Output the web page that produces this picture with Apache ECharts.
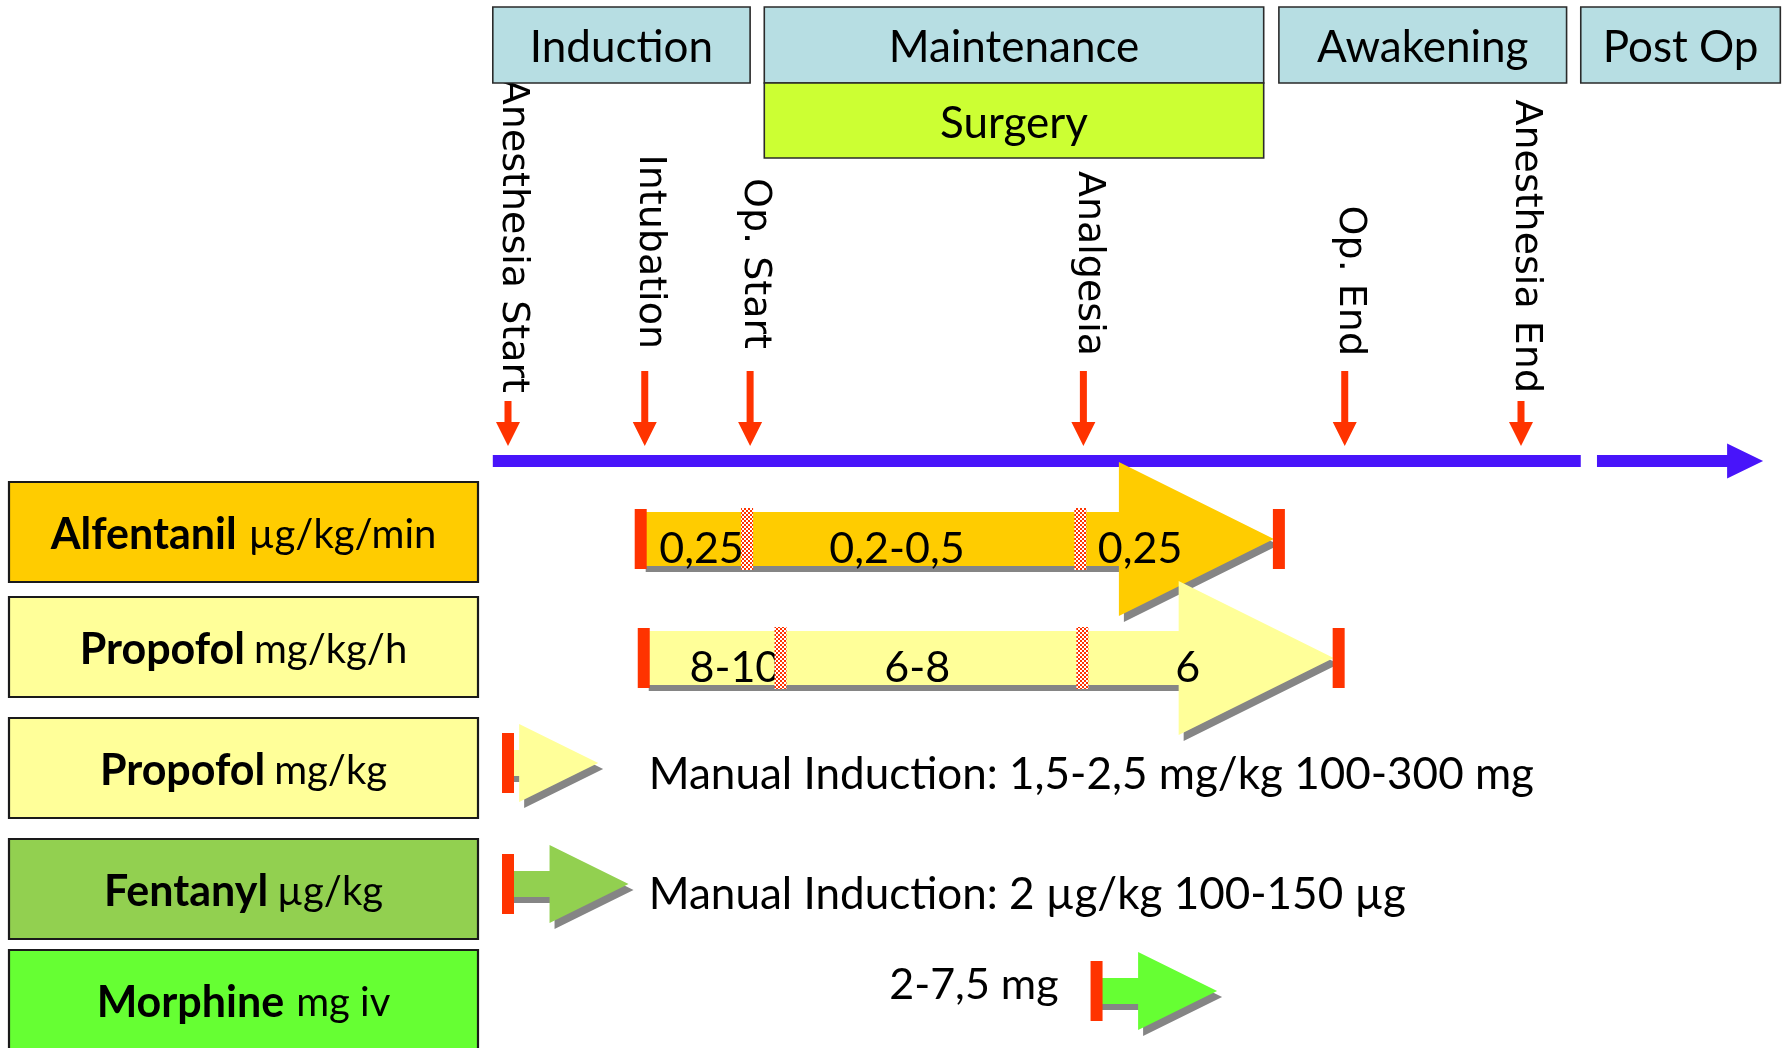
<!DOCTYPE html>
<html><head><meta charset="utf-8">
<script src="https://cdn.jsdelivr.net/npm/echarts@6/dist/echarts.min.js"></script>
<style>html,body{margin:0;padding:0;background:#fff}#c{width:1787px;height:1048px}</style>
</head><body><div id="c"></div>
<script>
// ================= DATA (timeline units: Anesthesia Start = 0, Anesthesia End = 100) =================
const phaseNames  = ['Induction', 'Maintenance', 'Awakening', 'Post Op'];
const phaseStart  = [-1.5, 25.3, 76.1, 105.9];
const phaseEnd    = [23.9, 74.6, 104.5, 125.6];
const surgeryName = ['Surgery'];
const surgeryStart = [25.3];
const surgeryEnd   = [74.6];

const eventNames = ['Anesthesia Start', 'Intubation', 'Op. Start', 'Analgesia', 'Op. End', 'Anesthesia End'];
const eventTimes = [0, 13.5, 23.9, 56.8, 82.6, 100];

const timelineFrom = [-1.5, 107.5];
const timelineTo   = [105.9, 123.9];

const drugNames = ['Alfentanil', 'Propofol', 'Propofol', 'Fentanyl', 'Morphine'];
const drugUnits = ['µg/kg/min', 'mg/kg/h', 'mg/kg', 'µg/kg', 'mg iv'];

// continuous infusions: segment bounds, doses, label positions
const alfentanilBounds  = [13.1, 23.6, 56.5, 76.1];
const alfentanilDoses   = ['0,25', '0,2-0,5', '0,25'];
const alfentanilLabelAt = [19.1, 38.4, 62.4];
const propofolBounds    = [13.4, 26.9, 56.7, 82.0];
const propofolDoses     = ['8-10', '6-8', '6'];
const propofolLabelAt   = [22.4, 40.4, 67.1];

// boluses
const bolusRow   = [2, 3, 4];
const bolusStart = [0, 0, 58.1];
const bolusEnd   = [8.9, 11.9, 70.0];
const bolusNotes = ['Manual Induction: 1,5-2,5 mg/kg 100-300 mg', 'Manual Induction: 2 µg/kg 100-150 µg', '2-7,5 mg'];

// ================= LAYOUT / STYLE =================
const RED = '#FF3300', BLUE = '#4814FA', SHADOW = '#858585', INK = '#000';
const PHASE_FILL = '#B7DEE3', SURGERY_FILL = '#CCFF33';
const ROW_FILL = ['#FFCC00', '#FFFF99', '#FFFF99', '#92D050', '#66FF33'];
const LATO = 'Lato, "Noto Sans", sans-serif';
const DEJAVU = '"DejaVu Sans", sans-serif';
const L = {
  phaseTop: 7, phaseBottom: 83, surgeryBottom: 158, headerFont: 44,
  eventTextEnd: [393, 349, 349, 356, 356, 393], eventFont: 38,
  eventArrowTop: [401, 371, 371, 371, 371, 401],
  eventTipY: 446, eventHead: 24, eventHeadW: 24, eventShaftW: 7, eventTextDx: 5,
  timelineY: 461, timelineW: 12, timelineHeadLen: 36, timelineHeadHalf: 17.5,
  boxX0: 9, boxX1: 478, boxTop: [482, 597, 718, 839, 950], boxH: 100,
  nameGap: [12, 9, 9, 9, 12],
  rowY: [539, 658, 763, 884, 991],
  bigBodyHalf: 27, bigHeadHalf: 77, bigHeadLen: 155, tipInset: 5,
  smallBodyHalf: 13, smallHeadHalf: 39, smallHeadLen: 79,
  barW: 12, barHalf: 30, sepW: 12, sepHalf: 31, shadowDx: 5, shadowDy: 6,
  doseFont: 43, doseTextDy: 10, noteFont: 44, noteX: 13.9, noteY: [775, 895, 985], noteGap: 38
};

function makePattern() {
  const c = document.createElement('canvas');
  c.width = 4; c.height = 4;
  const g = c.getContext('2d');
  g.fillStyle = '#ffffff'; g.fillRect(0, 0, 4, 4);
  g.fillStyle = RED; g.fillRect(0, 0, 2, 2); g.fillRect(2, 2, 2, 2);
  return c;
}
const HATCH = { image: makePattern(), repeat: 'repeat' };

function arrowPts(x0, xh, xt, c, bh, hh) {
  return [[x0, c - bh], [xh, c - bh], [xh, c - hh], [xt, c], [xh, c + hh], [xh, c + bh], [x0, c + bh]];
}
function shift(pts, dx, dy) { return pts.map(p => [p[0] + dx, p[1] + dy]); }
function rect(x, y, w, h, style) { return { type: 'rect', shape: { x, y, width: w, height: h }, style }; }
function txt(x, y, text, size, align, extra) {
  return { type: 'text', x, y, style: Object.assign({ text, fill: INK, font: size + 'px ' + LATO, align: align || 'center', verticalAlign: 'middle' }, extra || {}) };
}

const chart = echarts.init(document.getElementById('c'), null, { renderer: 'canvas', width: 1787, height: 1048 });
const X = (api, t) => api.coord([t, 0])[0];
const Y = (api, v) => api.coord([0, v])[1];

function infusionSeries(bounds, doses, labelAt, row) {
  const n = doses.length;
  return {
    type: 'custom', clip: false, silent: true,
    data: doses.map((d, i) => [bounds[i], bounds[i + 1]]),
    renderItem: (p, api) => {
      const i = p.dataIndex;
      const c = Y(api, L.rowY[row]);
      const s = X(api, api.value(0)), e = X(api, api.value(1));
      const ch = [];
      if (i === 0) {
        const xEnd = X(api, bounds[n]);
        const xt = xEnd - L.tipInset, xh = xt - L.bigHeadLen;
        const pts = arrowPts(s, xh, xt, c, L.bigBodyHalf, L.bigHeadHalf);
        ch.push({ type: 'polygon', shape: { points: shift(pts, L.shadowDx, L.shadowDy) }, style: { fill: SHADOW } });
        ch.push({ type: 'polygon', shape: { points: pts }, style: { fill: ROW_FILL[row] } });
        ch.push(rect(s - L.barW / 2, c - L.barHalf, L.barW, L.barHalf * 2, { fill: RED }));
      } else {
        ch.push(rect(s - L.sepW / 2, c - L.sepHalf, L.sepW, L.sepHalf * 2, { fill: HATCH }));
      }
      if (i === n - 1) ch.push(rect(e - L.barW / 2, c - L.barHalf, L.barW, L.barHalf * 2, { fill: RED }));
      ch.push(txt(X(api, labelAt[i]), c + L.doseTextDy, doses[i], L.doseFont));
      return { type: 'group', children: ch };
    }
  };
}

const option = {
  animation: false,
  backgroundColor: '#ffffff',
  grid: { left: 508, right: 266, top: 0, bottom: 0 },
  xAxis: { type: 'value', min: 0, max: 100, show: false },
  yAxis: { type: 'value', min: 0, max: 1048, inverse: true, show: false },
  series: [
    // events: rotated labels and red arrows
    {
      type: 'custom', clip: false, silent: true,
      data: eventTimes.map(t => [t]),
      renderItem: (p, api) => {
        const i = p.dataIndex;
        const x = X(api, api.value(0));
        const top = Y(api, L.eventArrowTop[i]), tip = Y(api, L.eventTipY), hs = tip - L.eventHead;
        const sw = L.eventShaftW / 2, hw = L.eventHeadW / 2;
        return { type: 'group', children: [
          { type: 'polygon', shape: { points: [[x - sw, top], [x + sw, top], [x + sw, hs], [x + hw, hs], [x, tip], [x - hw, hs], [x - sw, hs]] }, style: { fill: RED } },
          { type: 'text', x: x + L.eventTextDx, y: Y(api, L.eventTextEnd[i]), rotation: -Math.PI / 2,
            style: { text: eventNames[i], fill: INK, font: L.eventFont + 'px ' + DEJAVU, align: 'right', verticalAlign: 'middle' } }
        ] };
      }
    },
    // phase boxes
    {
      type: 'custom', clip: false, silent: true,
      data: phaseNames.map((n, i) => [phaseStart[i], phaseEnd[i]]),
      renderItem: (p, api) => {
        const i = p.dataIndex;
        const x0 = X(api, api.value(0)), x1 = X(api, api.value(1));
        const t = Y(api, L.phaseTop), b = Y(api, L.phaseBottom);
        return { type: 'group', children: [
          rect(x0, t, x1 - x0, b - t, { fill: PHASE_FILL, stroke: '#2a2a2a', lineWidth: 1.6 }),
          txt((x0 + x1) / 2, (t + b) / 2 + 3, phaseNames[i], L.headerFont)
        ] };
      }
    },
    // surgery box
    {
      type: 'custom', clip: false, silent: true,
      data: surgeryName.map((n, i) => [surgeryStart[i], surgeryEnd[i]]),
      renderItem: (p, api) => {
        const i = p.dataIndex;
        const x0 = X(api, api.value(0)), x1 = X(api, api.value(1));
        const t = Y(api, L.phaseBottom), b = Y(api, L.surgeryBottom);
        return { type: 'group', children: [
          rect(x0, t, x1 - x0, b - t, { fill: SURGERY_FILL, stroke: '#2a2a2a', lineWidth: 1.6 }),
          txt((x0 + x1) / 2, (t + b) / 2 + 3, surgeryName[i], L.headerFont)
        ] };
      }
    },
    // timeline
    {
      type: 'custom', clip: false, silent: true,
      data: timelineFrom.map((f, i) => [f, timelineTo[i]]),
      renderItem: (p, api) => {
        const i = p.dataIndex;
        const x0 = X(api, api.value(0)), x1 = X(api, api.value(1));
        const c = Y(api, L.timelineY), hw = L.timelineW / 2;
        if (i === 0) return rect(x0, c - hw, x1 - x0, L.timelineW, { fill: BLUE });
        const xh = x1 - L.timelineHeadLen;
        return { type: 'polygon', shape: { points: arrowPts(x0, xh, x1, c, hw, L.timelineHeadHalf) }, style: { fill: BLUE } };
      }
    },
    infusionSeries(alfentanilBounds, alfentanilDoses, alfentanilLabelAt, 0),
    infusionSeries(propofolBounds, propofolDoses, propofolLabelAt, 1),
    // boluses
    {
      type: 'custom', clip: false, silent: true,
      data: bolusStart.map((s, i) => [s, bolusEnd[i]]),
      renderItem: (p, api) => {
        const i = p.dataIndex, row = bolusRow[i];
        const s = X(api, api.value(0)), xt = X(api, api.value(1));
        const xh = xt - L.smallHeadLen, c = Y(api, L.rowY[row]);
        const pts = arrowPts(s, xh, xt, c, L.smallBodyHalf, L.smallHeadHalf);
        const ch = [
          { type: 'polygon', shape: { points: shift(pts, L.shadowDx, L.shadowDy) }, style: { fill: SHADOW } },
          { type: 'polygon', shape: { points: pts }, style: { fill: ROW_FILL[row] } },
          rect(s - L.barW / 2, c - L.barHalf, L.barW, L.barHalf * 2, { fill: RED })
        ];
        const ny = Y(api, L.noteY[i]);
        if (i < 2) ch.push(txt(X(api, L.noteX), ny, bolusNotes[i], L.noteFont, 'left'));
        else ch.push(txt(s - L.noteGap, ny, bolusNotes[i], 43, 'right'));
        return { type: 'group', children: ch };
      }
    },
    // drug row label boxes
    {
      type: 'custom', clip: false, silent: true,
      data: drugNames.map((n, i) => [i]),
      renderItem: (p, api) => {
        const i = p.dataIndex;
        const t = Y(api, L.boxTop[i]);
        return { type: 'group', children: [
          rect(L.boxX0, t, L.boxX1 - L.boxX0, L.boxH, { fill: ROW_FILL[i], stroke: '#1a1a1a', lineWidth: 2.2 }),
          { type: 'text', x: (L.boxX0 + L.boxX1) / 2, y: t + L.boxH / 2 + 3,
            style: { text: '{b|' + drugNames[i] + '}{u|' + drugUnits[i] + '}', align: 'center', verticalAlign: 'middle',
              rich: { b: { fontFamily: LATO, fontWeight: 'bold', fontSize: 43, fill: INK, padding: [0, L.nameGap[i], 0, 0] },
                      u: { fontFamily: LATO, fontSize: 40, fill: INK } } } }
        ] };
      }
    }
  ]
};
chart.setOption(option);
</script>
</body></html>
